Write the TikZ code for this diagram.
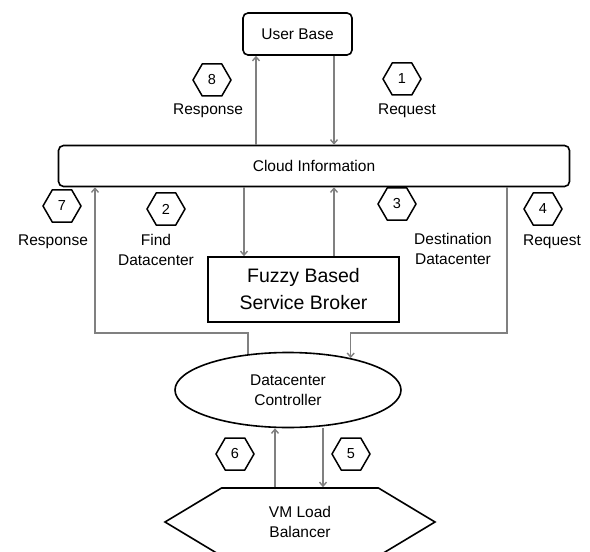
\documentclass[tikz,border=0pt]{standalone}
\usepackage{fontspec}
\setmainfont{Liberation Sans}
\usetikzlibrary{shapes.geometric,shapes.symbols,arrows.meta}

\begin{document}
\begin{tikzpicture}[x=1bp,y=-1bp,
  txt/.style={font=\fontsize{15.5bp}{20bp}\selectfont},
  lbl/.style={txt,align=center,inner sep=0pt},
  box/.style={txt,draw=black,line width=1.6bp,rounded corners=5bp},
  num/.style={signal,signal to=east and west,signal pointer angle=120,draw=black,
    line width=1.5bp,minimum width=38bp,minimum height=32bp,inner sep=0pt,
    font=\fontsize{14.5bp}{14.5bp}\selectfont},
  flow/.style={draw=black!50,line width=1.4bp,-{Straight Barb[length=4bp,width=7bp]}}]
\useasboundingbox (0,0) rectangle (590,552);
\node [box,minimum width=109bp,minimum height=42bp] (user) at (297.5,34) {User Base};
\node [box,minimum width=511bp,minimum height=41bp] (cloud) at (314,166) {Cloud Information};
\node [draw=black,line width=1.6bp,minimum width=191bp,minimum height=65bp,align=center,
  font=\fontsize{19.5bp}{27bp}\selectfont] (broker) at (303.5,289.5) {Fuzzy Based\\Service Broker};
\node [ellipse,txt,draw=black,line width=1.6bp,minimum width=226bp,minimum height=75bp,
  align=center,inner sep=0pt] (dcc) at (288,390) {Datacenter\\Controller};
\node [signal,signal to=east and west,signal pointer angle=62,draw=black,line width=1.6bp,
  minimum width=270bp,minimum height=68bp,txt,align=center,inner sep=0pt] (vmlb) at (300,522) {VM Load\\Balancer};
\coordinate (elbowL) at (95,333);
\coordinate (elbowR) at (507,333);
\draw [flow] ([xshift=-41.5bp]user.south |- cloud.north) -- ([xshift=-41.5bp]user.south);
\draw [flow] ([xshift=36.5bp]user.south) -- ([xshift=36.5bp]user.south |- cloud.north);
\draw [flow] ([xshift=-59.5bp]broker.north |- cloud.south) -- ([xshift=-59.5bp]broker.north);
\draw [flow] ([xshift=30.5bp]broker.north) -- ([xshift=30.5bp]broker.north |- cloud.south);
\draw [flow] (dcc.138) |- (elbowL) -- (elbowL |- cloud.south);
\draw [flow] (elbowR |- cloud.south) -- (elbowR) -| (dcc.27.4);
\draw [flow] ([xshift=-25bp]vmlb.north) -- ([xshift=-25bp]vmlb.north |- dcc.south);
\draw [flow] ([xshift=23bp]vmlb.north |- dcc.south) -- ([xshift=23bp]vmlb.north);
\node [num] (n8) at (212,80) {8};
\node [lbl] (r8) at (208,111) {Response};
\node [num] (n1) at (402,79) {1};
\node [lbl] (r1) at (407,111) {Request};
\node [num] (n7) at (62,206) {7};
\node [lbl] (r7) at (53,242) {Response};
\node [num] (n2) at (166,209) {2};
\node [lbl] (r2) at (156,250) {Find\\Datacenter};
\node [num] (n3) at (397,204) {3};
\node [lbl] (r3) at (453,249) {Destination\\Datacenter};
\node [num] (n4) at (543,209) {4};
\node [lbl] (r4) at (552,242) {Request};
\node [num] (n6) at (235,454) {6};
\node [num] (n5) at (351,454) {5};
\end{tikzpicture}
\end{document}
